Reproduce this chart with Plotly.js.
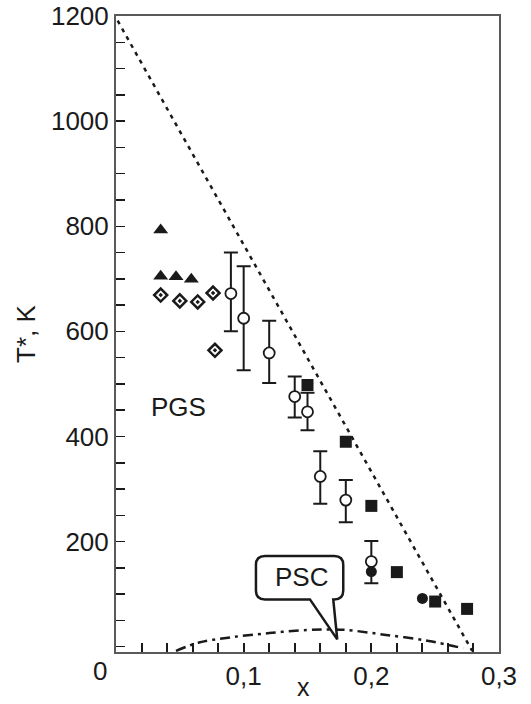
<!DOCTYPE html>
<html>
<head>
<meta charset="utf-8">
<script src="https://cdn.plot.ly/plotly-3.0.1.min.js"></script>
<style>html,body{margin:0;padding:0;background:#fff;}#chart{width:531px;height:704px;}</style>
</head>
<body>
<div id="chart"></div>
<script>
// ---- data ----
// filled triangles
const triX = [0.035, 0.035, 0.047, 0.059];
const triY = [793, 705, 704, 699];
// open diamonds with centre dot
const diaX = [0.035, 0.050, 0.064, 0.076, 0.0775];
const diaY = [669, 658, 656, 673, 564];
// open circles with asymmetric error bars
const circX = [0.090, 0.100, 0.120, 0.140, 0.150, 0.160, 0.180, 0.200];
const circY = [672, 625, 559, 476, 447, 324, 279, 162];
const circErrPlus = [78, 99, 61, 38, 36, 48, 38, 39];
const circErrMinus = [72, 99, 57, 40, 35, 52, 42, 41];
// filled circles
const dotX = [0.200, 0.240];
const dotY = [143, 92];
// filled squares
const sqX = [0.150, 0.180, 0.200, 0.220, 0.250, 0.275];
const sqY = [498, 390, 268, 142, 86, 72];
// dotted boundary line
const lineX = [0.0013, 0.279];
const lineY = [1191, -8];
// dash-dot superconducting dome (PSC)
const domeX = [0.047, 0.065, 0.090, 0.120, 0.150, 0.165, 0.180, 0.210, 0.245, 0.272];
const domeY = [-8, 8, 18, 26, 32, 33, 32, 23, 11, -3];
// axis ticks
const xTickVals = [0.1, 0.2, 0.3];
const xTickText = ['0,1', '0,2', '0,3'];
const xZeroLabel = '0';
const yTickVals = [200, 400, 600, 800, 1000, 1200];
const yTickText = ['200', '400', '600', '800', '1000', '1200'];

const FONT = 'Liberation Sans, Arial, Helvetica, sans-serif';
const INK = '#1a1a1a';
const FS = 26;

const traces = [
  {x: lineX, y: lineY, mode: 'lines', line: {color: INK, width: 2.5, dash: '4px,5px'}, hoverinfo: 'skip'},
  {x: domeX, y: domeY, mode: 'lines', line: {color: INK, width: 2.5, dash: '10px,5px,3px,5px', shape: 'spline'}, hoverinfo: 'skip'},
  {x: triX, y: triY, mode: 'markers', marker: {symbol: 'triangle-up', size: 13, color: INK, line: {width: 0}}},
  {x: diaX, y: diaY, mode: 'markers', marker: {symbol: 'diamond-open-dot', size: 10, color: INK, line: {width: 2.5, color: INK}}},
  {x: circX, y: circY, mode: 'markers',
   error_y: {type: 'data', symmetric: false, array: circErrPlus, arrayminus: circErrMinus, color: INK, thickness: 2, width: 7},
   marker: {symbol: 'circle', size: 11, color: '#fff', line: {width: 1.8, color: INK}}},
  {x: dotX, y: dotY, mode: 'markers', marker: {symbol: 'circle', size: 11, color: INK, line: {width: 0}}},
  {x: sqX, y: sqY, mode: 'markers', marker: {symbol: 'square', size: 12, color: INK, line: {width: 0}}}
];

const layout = {
  width: 531, height: 704,
  margin: {l: 116, r: 32, t: 16, b: 52, pad: 0},
  paper_bgcolor: '#fff', plot_bgcolor: '#fff',
  showlegend: false,
  font: {family: FONT, size: FS, color: INK},
  xaxis: {
    range: [0, 0.3], showgrid: false, zeroline: false,
    showline: true, linecolor: '#5a5a5a', linewidth: 2, mirror: true,
    ticks: 'inside', ticklen: 9, tickwidth: 2, tickcolor: INK,
    tickvals: xTickVals, ticktext: xTickText,
    tickfont: {family: FONT, size: FS, color: INK},
    minor: {dtick: 0.02, ticks: 'inside', ticklen: 9, tickwidth: 2, tickcolor: INK, showgrid: false}
  },
  yaxis: {
    range: [-10, 1200], showgrid: false, zeroline: false,
    showline: true, linecolor: '#5a5a5a', linewidth: 2, mirror: true,
    ticks: 'inside', ticklen: 9, tickwidth: 1.5, tickcolor: INK,
    tickvals: yTickVals, ticktext: yTickText,
    tickfont: {family: FONT, size: FS, color: INK},
    minor: {dtick: 50, ticks: 'inside', ticklen: 9, tickwidth: 1.5, tickcolor: INK, showgrid: false}
  },
  shapes: [{
    type: 'path', xref: 'x', yref: 'y', xsizemode: 'pixel', ysizemode: 'pixel',
    xanchor: 0.1733, yanchor: 14,
    path: 'M -27.3,40 L 0,0 L -4,40 L -3,40 Q 6,40 6,49 L 6,74.3 Q 6,83.3 -3,83.3 L -72.3,83.3 Q -81.3,83.3 -81.3,74.3 L -81.3,49 Q -81.3,40 -72.3,40 Z',
    line: {color: INK, width: 2.5}, fillcolor: '#fff', layer: 'above'
  }],
  annotations: [
    {text: 'PSC', x: 0.145, y: 133, xref: 'x', yref: 'y', showarrow: false, font: {family: FONT, size: FS, color: INK}},
    {text: 'PGS', x: 0.0493, y: 457, xref: 'x', yref: 'y', showarrow: false, font: {family: FONT, size: FS, color: INK}},
    {text: xZeroLabel, x: 0, y: 0, xref: 'x', yref: 'paper', xshift: -16, yshift: -19, showarrow: false,
     xanchor: 'center', yanchor: 'middle', font: {family: FONT, size: FS, color: INK}},
    {text: 'T*, K', xref: 'paper', yref: 'paper', x: 0, y: 0.5, xshift: -90, textangle: -90, showarrow: false,
     xanchor: 'center', yanchor: 'middle', font: {family: FONT, size: FS, color: INK}},
    {text: 'x', xref: 'paper', yref: 'paper', x: 0.5, y: 0, xshift: -4, yshift: -35, showarrow: false,
     xanchor: 'center', yanchor: 'middle', font: {family: FONT, size: 25, color: INK}}
  ]
};

Plotly.newPlot('chart', traces, layout, {staticPlot: true, displayModeBar: false});
</script>
</body>
</html>
